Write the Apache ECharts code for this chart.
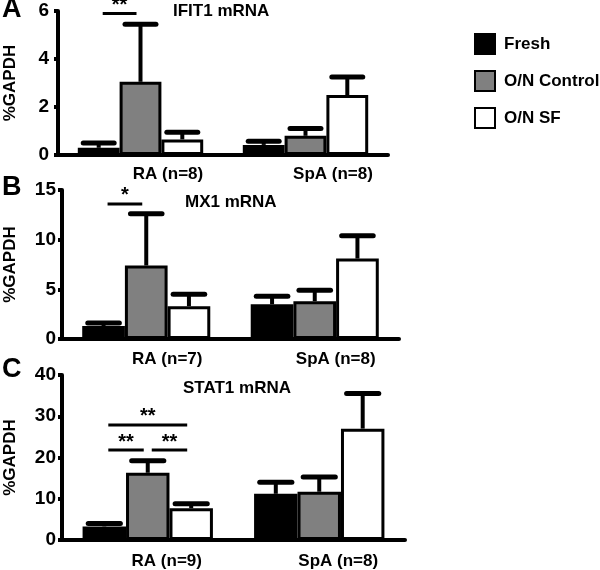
<!DOCTYPE html>
<html><head><meta charset="utf-8">
<script src="https://cdn.jsdelivr.net/npm/echarts@6/dist/echarts.min.js"></script>
<style>html,body{margin:0;padding:0;background:#fff}#c{width:600px;height:570px}</style>
</head><body><div id="c"></div>
<script>
// ---- data ----
var seriesNames = ['Fresh', 'O/N Control', 'O/N SF'];
var panelTitles = ['IFIT1 mRNA', 'MX1 mRNA', 'STAT1 mRNA'];
var panelLetters = ['A', 'B', 'C'];

var catsA = ['RA (n=8)', 'SpA (n=8)'];
var freshA = [0.3, 0.42],  freshTopA = [0.5, 0.57];
var ctrlA  = [3.05, 0.8],  ctrlTopA  = [5.45, 1.1];
var sfA    = [0.65, 2.5],  sfTopA    = [0.95, 3.25];
var ticksA = [0, 2, 4, 6];
var sigA = [[0, 0, 1, 5.9, '**']];

var catsB = ['RA (n=7)', 'SpA (n=8)'];
var freshB = [1.3, 3.5],  freshTopB = [1.6, 4.3];
var ctrlB  = [7.4, 3.8],  ctrlTopB  = [12.6, 4.9];
var sfB    = [3.3, 8.1],  sfTopB    = [4.5, 10.4];
var ticksB = [0, 5, 10, 15];
var sigB = [[0, 0, 1, 13.6, '*']];

var catsC = ['RA (n=9)', 'SpA (n=8)'];
var freshC = [3.3, 11.2],  freshTopC = [4.0, 14.0];
var ctrlC  = [16.3, 11.7], ctrlTopC  = [19.2, 15.3];
var sfC    = [7.7, 27.0],  sfTopC    = [8.8, 35.5];
var ticksC = [0, 10, 20, 30, 40];
var sigC = [[0, 0, 2, 27.9, '**'], [0, 0, 1, 21.8, '**'], [0, 1, 2, 21.8, '**']];

// ---- build ----
var GAP = 0.24;
var colors = ['#000000', '#808080', '#ffffff'];
var FONT = 'Liberation Sans, Arial, sans-serif';

var panels = [
  {cats: catsA, vals: [freshA, ctrlA, sfA], tops: [freshTopA, ctrlTopA, sfTopA], ticks: ticksA, sig: sigA,
   grid: {left: 58, top: 11, width: 330, height: 144}, nameGap: 39, tickMargin: 9, labelPad: 55, labelMargin: 11, titlePos: [173, 3], letterTop: -4},
  {cats: catsB, vals: [freshB, ctrlB, sfB], tops: [freshTopB, ctrlTopB, sfTopB], ticks: ticksB, sig: sigB,
   grid: {left: 62, top: 190, width: 337, height: 149}, nameGap: 43, tickMargin: 6, labelPad: 42, labelMargin: 12, titlePos: [185, 194], letterTop: 174},
  {cats: catsC, vals: [freshC, ctrlC, sfC], tops: [freshTopC, ctrlTopC, sfTopC], ticks: ticksC, sig: sigC,
   grid: {left: 62, top: 375, width: 343, height: 165}, nameGap: 43, tickMargin: 6, labelPad: 38, labelMargin: 13, titlePos: [183, 380], letterTop: 356}
];

var grids = [], xAxes = [], yAxes = [], series = [], titles = [];

function errRender(params, api) {
  var cat = api.value(0), idx = api.value(1), mean = api.value(2), top = api.value(3);
  var catW = api.size([1, 0])[0];
  var bw = catW * (1 - GAP) / 3;
  var b = api.coord([cat, mean]), t = api.coord([cat, top]);
  var x = b[0] + (idx - 1) * bw;
  var cw = bw * 0.74;
  return {type: 'group', children: [
    {type: 'line', shape: {x1: x, y1: b[1], x2: x, y2: t[1]}, style: {stroke: '#000', lineWidth: 4}},
    {type: 'line', shape: {x1: x - cw / 2, y1: t[1], x2: x + cw / 2, y2: t[1]}, style: {stroke: '#000', lineWidth: 5, lineCap: 'round'}}
  ]};
}

function makeSigRender(sig) {
  return function (params, api) {
    var d = sig[params.dataIndex];
    var catW = api.size([1, 0])[0];
    var bw = catW * (1 - GAP) / 3;
    var c = api.coord([d[0], d[3]]);
    var x1 = c[0] + (d[1] - 1) * bw + 4, x2 = c[0] + (d[2] - 1) * bw - 4;
    return {type: 'group', children: [
      {type: 'line', shape: {x1: x1, y1: c[1], x2: x2, y2: c[1]}, style: {stroke: '#000', lineWidth: 3}},
      {type: 'text', x: (x1 + x2) / 2, y: c[1] - 8, style: {text: d[4], font: 'bold 20px ' + FONT, fill: '#000', align: 'center', verticalAlign: 'middle'}}
    ]};
  };
}

panels.forEach(function (p, gi) {
  var g = p.grid;
  g.containLabel = false;
  g.outerBoundsMode = 'none';
  grids.push(g);
  xAxes.push({
    type: 'category', gridIndex: gi, data: p.cats,
    axisLine: {lineStyle: {color: '#000', width: 4}},
    axisTick: {show: false},
    axisLabel: {color: '#000', fontFamily: FONT, fontWeight: 'bold', fontSize: 17, margin: p.labelMargin, padding: [0, 0, 0, p.labelPad]}
  });
  yAxes.push({
    type: 'value', gridIndex: gi, min: p.ticks[0], max: p.ticks[p.ticks.length - 1], interval: p.ticks[1] - p.ticks[0],
    name: '%GAPDH', nameLocation: 'middle', nameRotate: 90, nameGap: p.nameGap,
    nameTextStyle: {color: '#000', fontFamily: FONT, fontWeight: 'bold', fontSize: 17},
    axisLine: {show: true, lineStyle: {color: '#000', width: 4}},
    axisTick: {show: true, length: 4, lineStyle: {color: '#000', width: 4}},
    axisLabel: {color: '#000', fontFamily: FONT, fontWeight: 'bold', fontSize: 19, margin: p.tickMargin},
    splitLine: {show: false}
  });
  p.vals.forEach(function (arr, si) {
    series.push({
      type: 'bar', name: seriesNames[si], xAxisIndex: gi, yAxisIndex: gi, data: arr,
      barGap: '0%', barCategoryGap: (GAP * 100) + '%',
      itemStyle: {color: colors[si], borderColor: '#000', borderWidth: 3},
      z: 2
    });
  });
  var errData = [];
  p.vals.forEach(function (arr, si) {
    arr.forEach(function (v, ci) { errData.push([ci, si, v, p.tops[si][ci]]); });
  });
  series.push({type: 'custom', xAxisIndex: gi, yAxisIndex: gi, data: errData, renderItem: errRender, z: 3, silent: true});
  series.push({type: 'custom', xAxisIndex: gi, yAxisIndex: gi,
    data: p.sig.map(function (d) { return [d[0], d[3]]; }), renderItem: makeSigRender(p.sig), z: 4, silent: true});
  titles.push({text: panelTitles[gi], left: p.titlePos[0], top: p.titlePos[1], padding: 0,
    textStyle: {color: '#000', fontFamily: FONT, fontWeight: 'bold', fontSize: 17}});
  titles.push({text: panelLetters[gi], left: 2, top: p.letterTop, padding: 0,
    textStyle: {color: '#000', fontFamily: FONT, fontWeight: 'bold', fontSize: 27}});
});

var chart = echarts.init(document.getElementById('c'), null, {renderer: 'canvas'});
chart.setOption({
  animation: false,
  backgroundColor: '#fff',
  title: titles,
  legend: {
    data: seriesNames, orient: 'vertical', left: 474, top: 33, itemWidth: 20, itemHeight: 20, itemGap: 15,
    icon: 'rect', padding: 0,
    textStyle: {color: '#000', fontFamily: FONT, fontWeight: 'bold', fontSize: 17, padding: [6, 0, 0, 4]}
  },
  grid: grids, xAxis: xAxes, yAxis: yAxes, series: series
});
</script>
</body></html>
